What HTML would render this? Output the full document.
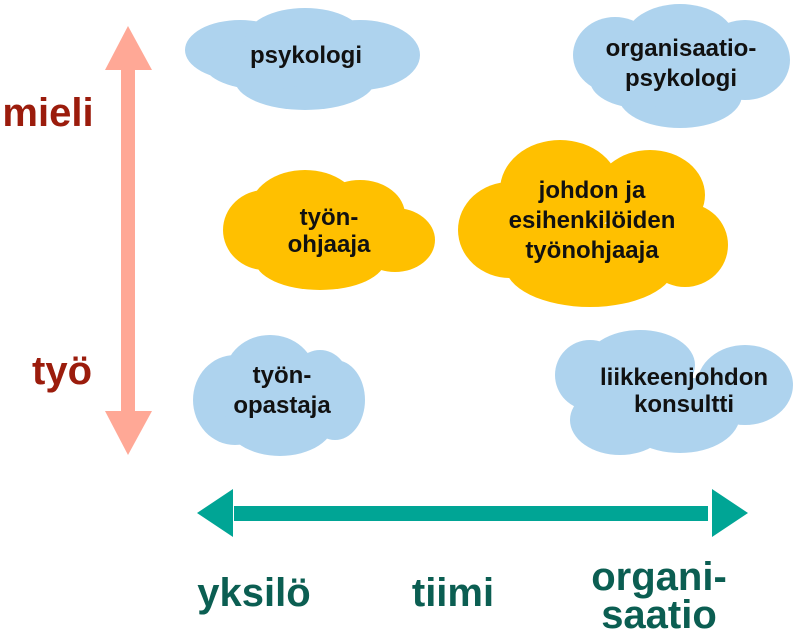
<!DOCTYPE html>
<html><head><meta charset="utf-8"><style>
html,body{margin:0;padding:0;background:#fff;}
svg{display:block;}
text{font-family:"Liberation Sans",sans-serif;font-weight:bold;}
</style></head><body>
<svg width="800" height="639" viewBox="0 0 800 639" xmlns="http://www.w3.org/2000/svg">
<!-- vertical arrow -->
<g fill="#ffa896">
<rect x="121" y="66" width="14" height="348"/>
<polygon points="128,26 152,70 105,70"/>
<polygon points="128,455 152,411 105,411"/>
</g>
<!-- horizontal arrow -->
<g fill="#00a595">
<rect x="234" y="506" width="474" height="15"/>
<polygon points="197,513 233,489 233,537"/>
<polygon points="748,513 712,489 712,537"/>
</g>
<!-- psykologi -->
<g fill="#aed3ee">
<ellipse cx="240" cy="50" rx="55" ry="30"/>
<ellipse cx="305" cy="40" rx="60" ry="32"/>
<ellipse cx="360" cy="55" rx="60" ry="35"/>
<ellipse cx="305" cy="80" rx="70" ry="30"/>
<ellipse cx="265" cy="65" rx="60" ry="25"/>
</g>
<text x="306" y="63" font-size="24" text-anchor="middle" fill="#111">psykologi</text>
<!-- organisaatio-psykologi -->
<g fill="#aed3ee">
<ellipse cx="615" cy="55" rx="42" ry="38"/>
<ellipse cx="680" cy="40" rx="55" ry="36"/>
<ellipse cx="745" cy="60" rx="45" ry="40"/>
<ellipse cx="680" cy="95" rx="62" ry="33"/>
<ellipse cx="640" cy="80" rx="50" ry="28"/>
</g>
<text font-size="24" text-anchor="middle" fill="#111"><tspan x="681" y="56">organisaatio-</tspan><tspan x="681" y="86">psykologi</tspan></text>
<!-- työn-ohjaaja -->
<g fill="#ffc000">
<ellipse cx="265" cy="230" rx="42" ry="40"/>
<ellipse cx="305" cy="210" rx="55" ry="40"/>
<ellipse cx="395" cy="240" rx="40" ry="32"/>
<ellipse cx="320" cy="260" rx="65" ry="30"/>
<ellipse cx="360" cy="215" rx="45" ry="35"/>
</g>
<text font-size="24" text-anchor="middle" fill="#111"><tspan x="329" y="225">työn-</tspan><tspan x="329" y="252">ohjaaja</tspan></text>
<!-- johdon ja -->
<g fill="#ffc000">
<ellipse cx="510" cy="230" rx="52" ry="48"/>
<ellipse cx="560" cy="190" rx="60" ry="50"/>
<ellipse cx="650" cy="195" rx="55" ry="45"/>
<ellipse cx="685" cy="245" rx="43" ry="42"/>
<ellipse cx="590" cy="265" rx="85" ry="42"/>
</g>
<text font-size="24" text-anchor="middle" fill="#111"><tspan x="592" y="198">johdon ja</tspan><tspan x="592" y="228">esihenkilöiden</tspan><tspan x="592" y="258">työnohjaaja</tspan></text>
<!-- työn-opastaja -->
<g fill="#aed3ee">
<ellipse cx="235" cy="400" rx="42" ry="45"/>
<ellipse cx="270" cy="375" rx="45" ry="40"/>
<ellipse cx="335" cy="400" rx="30" ry="40"/>
<ellipse cx="280" cy="420" rx="55" ry="36"/>
<ellipse cx="320" cy="385" rx="30" ry="35"/>
</g>
<text font-size="24" text-anchor="middle" fill="#111"><tspan x="282" y="383">työn-</tspan><tspan x="282" y="413">opastaja</tspan></text>
<!-- liikkeenjohdon konsultti -->
<g fill="#aed3ee">
<ellipse cx="590" cy="375" rx="35" ry="35"/>
<ellipse cx="640" cy="365" rx="55" ry="35"/>
<ellipse cx="745" cy="385" rx="48" ry="40"/>
<ellipse cx="620" cy="420" rx="50" ry="35"/>
<ellipse cx="680" cy="415" rx="60" ry="38"/>
</g>
<text font-size="24" text-anchor="middle" fill="#111"><tspan x="684" y="385">liikkeenjohdon</tspan><tspan x="684" y="412">konsultti</tspan></text>
<!-- axis labels -->
<text x="48" y="126" font-size="40" text-anchor="middle" fill="#9b1c0c">mieli</text>
<text x="62" y="384" font-size="40" text-anchor="middle" fill="#9b1c0c">työ</text>
<text x="254" y="606" font-size="40" text-anchor="middle" fill="#0b5e52">yksilö</text>
<text x="453" y="606" font-size="40" text-anchor="middle" fill="#0b5e52">tiimi</text>
<text font-size="40" text-anchor="middle" fill="#0b5e52"><tspan x="659" y="590">organi-</tspan><tspan x="659" y="628">saatio</tspan></text>
</svg>
</body></html>
